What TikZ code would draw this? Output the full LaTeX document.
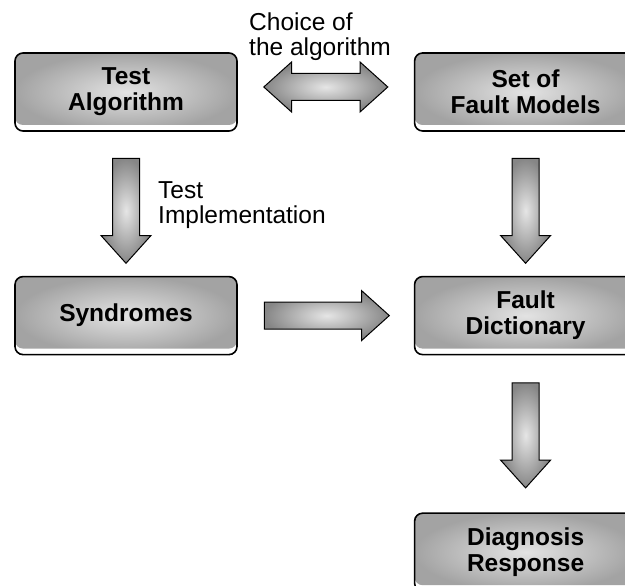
\documentclass[tikz,border=0pt]{standalone}
\usepackage{fontspec}
\setmainfont{Liberation Sans}
\usetikzlibrary{positioning,shapes.arrows,calc}

\begin{document}
\begin{tikzpicture}[x=1pt,y=1pt,
  box/.style={draw=black,line width=1.6pt,rounded corners=8pt,fill=white,
    minimum width=222pt,minimum height=78pt,inner sep=0pt,align=center,
    font=\fontsize{24.5}{26}\selectfont\bfseries,
    path picture={\shade[inner color=gray!22,outer color=gray!72]
      (path picture bounding box.north west) rectangle
      ([yshift=6pt]path picture bounding box.south east);}},
  blk/.style={single arrow,draw=black,line width=1pt,inner color=gray!20,outer color=gray!95,
    minimum height=105pt,single arrow head extend=11.5pt,
    single arrow tip angle=84,inner xsep=0pt,inner ysep=13pt,anchor=tail},
  dblk/.style={double arrow,draw=black,line width=1pt,inner color=gray!20,outer color=gray!95,
    minimum height=124pt,double arrow head extend=11.5pt,
    double arrow tip angle=84,inner xsep=0pt,inner ysep=13pt},
  note/.style={font=\fontsize{24.5}{25}\selectfont,align=left,inner sep=0pt}]
\clip (0,0) rectangle (625,586);
% boxes
\node[box] (alg) at (126,494) {Test\\Algorithm};
\node[box,right=176pt of alg] (sfm) {Set of\\Fault Models};
\node[box,below=144pt of alg] (syn) {Syndromes};
\node[box,below=144pt of sfm] (fd) {Fault\\Dictionary};
\node[box,below=157pt of fd] (dr) {Diagnosis\\Response};
% block arrows
\node[dblk] (choice) at ($(alg.east)!0.5!(sfm.west)+(0,5)$) {};
\node[blk,rotate=-90] (impl) at ([yshift=-26pt]alg.south) {};
\node[blk,rotate=-90] (models) at ([yshift=-26pt]sfm.south) {};
\node[blk,minimum height=125pt] (match) at ([xshift=26pt]syn.east) {};
\node[blk,rotate=-90] (diag) at ([yshift=-27pt]fd.south) {};
% labels
\node[note,anchor=north west] (choicetxt) at (249,573) {Choice of\\the algorithm};
\node[note,anchor=north west] (impltxt) at (158,405) {Test\\Implementation};
\end{tikzpicture}
\end{document}
